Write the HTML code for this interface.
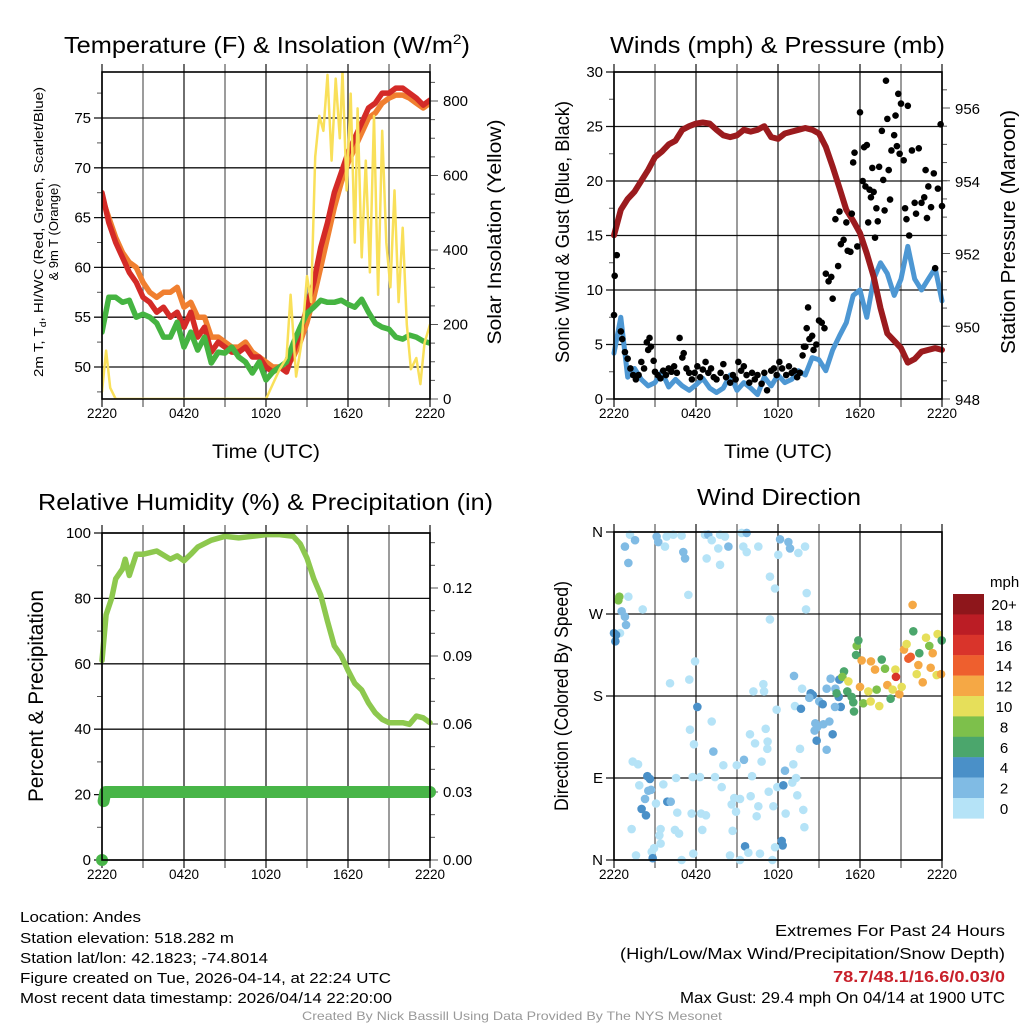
<!DOCTYPE html>
<html><head><meta charset="utf-8"><style>
html,body{margin:0;padding:0;background:#fff}
svg{display:block;font-family:"Liberation Sans",sans-serif}
</style></head><body>
<svg id="fig" width="1024" height="1024" viewBox="0 0 1024 1024">
<rect width="1024" height="1024" fill="#fff"/>
<g id="p1"></g>
<g id="p2"></g>
<g id="p3"></g>
<g id="p4"></g>
<g id="txt">
<text x="64" y="53" font-size="23" textLength="406" lengthAdjust="spacingAndGlyphs">Temperature (F) &amp; Insolation (W/m<tspan dy="-9" font-size="14">2</tspan><tspan dy="9">)</tspan></text>
<text x="610" y="53" font-size="23" textLength="335" lengthAdjust="spacingAndGlyphs">Winds (mph) &amp; Pressure (mb)</text>
<text x="38" y="510" font-size="23" textLength="455" lengthAdjust="spacingAndGlyphs">Relative Humidity (%) &amp; Precipitation (in)</text>
<text x="697" y="505" font-size="23" textLength="164" lengthAdjust="spacingAndGlyphs">Wind Direction</text>
<text x="266" y="458" font-size="19" text-anchor="middle" textLength="108" lengthAdjust="spacingAndGlyphs">Time (UTC)</text>
<text x="778" y="458" font-size="19" text-anchor="middle" textLength="108" lengthAdjust="spacingAndGlyphs">Time (UTC)</text>
<text transform="translate(43,232) rotate(-90)" font-size="13" text-anchor="middle" textLength="290" lengthAdjust="spacingAndGlyphs">2m T, T<tspan font-size="9" dy="3">d</tspan><tspan dy="-3">, HI/WC (Red, Green, Scarlet/Blue)</tspan></text>
<text transform="translate(58,232) rotate(-90)" font-size="13" text-anchor="middle">&amp; 9m T (Orange)</text>
<text transform="translate(501,232) rotate(-90)" font-size="19" text-anchor="middle" textLength="225" lengthAdjust="spacingAndGlyphs">Solar Insolation (Yellow)</text>
<text transform="translate(569,232) rotate(-90)" font-size="19" text-anchor="middle" textLength="262" lengthAdjust="spacingAndGlyphs">Sonic Wind &amp; Gust (Blue, Black)</text>
<text transform="translate(1015,232) rotate(-90)" font-size="20" text-anchor="middle" textLength="244" lengthAdjust="spacingAndGlyphs">Station Pressure (Maroon)</text>
<text transform="translate(43,696) rotate(-90)" font-size="21" text-anchor="middle" textLength="212" lengthAdjust="spacingAndGlyphs">Percent &amp; Precipitation</text>
<text transform="translate(568,696) rotate(-90)" font-size="19" text-anchor="middle" textLength="230" lengthAdjust="spacingAndGlyphs">Direction (Colored By Speed)</text>
<g font-size="15">
<text x="20" y="922" textLength="121" lengthAdjust="spacingAndGlyphs">Location: Andes</text>
<text x="20" y="943" textLength="214" lengthAdjust="spacingAndGlyphs">Station elevation: 518.282 m</text>
<text x="20" y="963" textLength="248" lengthAdjust="spacingAndGlyphs">Station lat/lon: 42.1823; -74.8014</text>
<text x="20" y="983" textLength="371" lengthAdjust="spacingAndGlyphs">Figure created on Tue, 2026-04-14, at 22:24 UTC</text>
<text x="20" y="1003" textLength="372" lengthAdjust="spacingAndGlyphs">Most recent data timestamp: 2026/04/14 22:20:00</text>
</g>
<g font-size="16" text-anchor="end">
<text x="1005" y="936" textLength="230" lengthAdjust="spacingAndGlyphs">Extremes For Past 24 Hours</text>
<text x="1005" y="959" textLength="385" lengthAdjust="spacingAndGlyphs">(High/Low/Max Wind/Precipitation/Snow Depth)</text>
<text x="1005" y="982" fill="#c8202a" font-weight="bold" textLength="172" lengthAdjust="spacingAndGlyphs">78.7/48.1/16.6/0.03/0</text>
<text x="1005" y="1003" textLength="325" lengthAdjust="spacingAndGlyphs">Max Gust: 29.4 mph On 04/14 at 1900 UTC</text>
</g>
<text x="512" y="1020" font-size="12" fill="#999" text-anchor="middle" textLength="420" lengthAdjust="spacingAndGlyphs">Created By Nick Bassill Using Data Provided By The NYS Mesonet</text>
</g>
</svg>
<script>
// ===== Data =====
const xTickLabels = ["2220","0420","1020","1620","2220"];
const temp2m = [67.5,64.5,62.5,61,59.5,58.5,57,56.5,55.5,56,55,55.5,54,55.5,53,54,51.5,52.5,52,51.5,51.5,52,51,51,50,49.5,50,49.5,51.5,53.5,56,58.5,62,64.5,67.5,69.5,71.5,73,74.5,76,76.5,77.5,77.5,78,78,77.5,77,76.3,76.8];
const temp9m = [67,65,63,61.5,60.5,60,58.5,57.5,57,57.5,57.5,58,56,56.5,55,55,53,53,52.5,52,52,52.5,51.5,51,50.5,50,50,50,51,52.5,54.5,57,60,63,66,68.5,70.5,72,73.5,75,75.5,76.5,77,77.3,77.3,77,76.5,76,76.5];
const dewpoint = [53.5,57,57,56.5,56.7,55,55.3,55,54.4,53,53,54.5,52,53.5,51.7,53,50.4,51.5,51.4,52,51,50.5,49.4,50.5,48.7,49.5,50,50.5,52.4,54,55.4,56,56.7,56.5,56.5,56.7,56.3,56,56.8,55.5,54.4,54,53.8,53,52.8,53.2,53,52.6,52.4];
const solarTimes = [0,0.3,0.6,1.0,12.0,12.5,13,13.5,13.8,14.2,14.6,15,15.3,15.6,15.9,16.2,16.5,16.8,17.1,17.4,17.6,17.9,18.2,18.5,18.7,19,19.3,19.6,19.9,20.2,20.5,20.8,21.1,21.4,21.7,22,22.3,22.6,23,23.3,23.6,24];
const solarValues = [20,130,30,0,0,40,80,110,280,60,150,330,260,650,760,720,870,640,860,700,880,560,820,420,780,380,640,340,760,280,720,420,300,560,260,460,200,80,110,40,150,200];
const pressure = [952.5,953.2,953.5,953.7,954.0,954.3,954.65,954.8,955.0,955.1,955.4,955.5,955.57,955.6,955.57,955.4,955.25,955.2,955.25,955.4,955.35,955.4,955.5,955.2,955.15,955.3,955.35,955.4,955.45,955.4,955.3,954.93,954.38,953.8,953.2,952.9,952.56,952.0,951.36,950.5,949.8,949.6,949.4,949.0,949.1,949.3,949.35,949.4,949.35];
const windSpeed = [4.2,7.5,2.0,2.8,1.8,1.2,1.5,2.5,1.1,1.8,1.2,0.8,1.3,1.9,1.0,0.6,1.0,2.2,0.8,1.5,1.0,0.4,2.0,1.2,2.2,1.5,1.8,2.6,2.2,3.8,3.6,2.6,4.5,5.8,7.0,9.5,10,7.5,11,12.5,11.5,9.5,11,14,11,10,11,12,9];
const gustTimes = [0.0,0.05,0.2,0.5,0.6,0.8,1.0,1.2,1.4,1.6,1.8,2.0,2.2,2.4,2.5,2.6,2.7,2.9,3.0,3.2,3.4,3.6,3.8,4.0,4.2,4.4,4.6,4.8,5.0,5.1,5.3,5.5,5.7,5.9,6.1,6.3,6.5,6.7,6.9,7.1,7.3,7.5,7.8,8.0,8.2,8.5,8.7,8.9,9.1,9.3,9.5,9.7,9.9,10.1,10.3,10.5,10.8,11.0,11.2,11.5,11.7,11.9,12.1,12.3,12.6,12.8,13.0,13.2,13.4,13.6,13.8,13.9,14.0,14.1,14.2,14.3,14.5,14.6,14.8,15.0,15.2,15.4,15.5,15.7,15.9,16.0,16.2,16.4,16.5,16.6,16.8,17.0,17.1,17.3,17.4,17.5,17.6,17.8,18.0,18.2,18.3,18.4,18.5,18.6,18.7,18.8,18.9,19.0,19.1,19.2,19.3,19.4,19.6,19.7,19.8,19.9,20.0,20.1,20.2,20.3,20.5,20.6,20.7,20.8,20.9,21.0,21.2,21.3,21.4,21.5,21.6,21.8,22.0,22.1,22.3,22.5,22.7,22.8,22.9,23.0,23.2,23.4,23.5,23.7,23.9,24.0];
const gustValues = [7.7,11.3,13.2,6.2,5.5,4.3,3.7,2.8,2.2,1.8,2.2,3.4,2.8,5.2,4.5,5.6,4.8,3.5,2.5,2.2,1.9,2.6,2.2,2.8,2.5,3.0,2.4,5.6,3.8,4.2,2.8,2.4,1.8,2.4,3.0,2.0,2.7,3.4,2.4,2.8,2.0,1.8,2.4,3.2,2.0,1.5,2.2,1.8,3.4,2.6,3.0,2.2,1.5,2.4,1.8,2.2,1.4,2.4,0.8,2.6,2.8,2.2,3.4,2.8,2.2,3.0,2.4,2.6,2.0,2.4,4.0,4.8,4.8,6.5,8.4,5.5,5.8,4.5,5.0,7.2,7.0,6.5,11.5,10.8,11.2,9.2,16.5,12.2,17.2,14.2,14.6,16.2,13.6,13.5,17.0,21.7,22.6,14.0,26.3,20.0,23.1,19.5,23.3,16.2,19.2,18.5,21.2,19.0,14.8,17.5,16.3,21.3,24.6,20.1,17.3,29.2,25.7,21.0,18.3,22.8,24.2,26.0,23.2,28.0,22.5,27.1,21.9,17.5,16.5,26.9,15.0,22.8,18.0,17.0,23.0,18.0,18.5,21.0,16.6,19.5,17.6,20.7,12.0,19.3,25.2,17.7];
const rhTimes = [0,0.3,0.7,1,1.5,1.7,2,2.5,3,4,5,5.5,6,6.5,7,8,9,10,11,12,13,14,14.5,15,15.5,16,16.5,17,17.5,18,18.5,19,19.5,20,20.5,21,22,22.5,23,23.5,24];
const rhValues = [61,75,80,86,89,92,87,93.5,93.5,94.5,92,93,91.5,93.5,95.7,97.8,99,98.5,99,99.5,99.5,99,96.7,92.3,86,81,73,65.5,62.5,58,54,52,48,45,43,42,42,41.5,44,43.5,42];
const precipTimes = [0,0.12,0.25,0.5,24];
const precipValues = [0,0.026,0.03,0.03,0.03];
const dirTimes = [1.17,1.54,0.8,1.05,3.12,3.24,3.73,3.85,4.34,4.95,5.07,5.2,5.44,6.66,6.9,7.15,6.78,7.76,8.12,8.37,7.63,7.76,9.34,9.71,9.46,9.71,10.56,11.41,11.78,12.15,12.02,12.76,12.88,13.49,13.98,14.1,14.05,11.41,
0.39,0.32,1.05,0.56,0.8,0.88,0.44,0,0.15,0.1,2.1,
5.93,4.1,5.51,6.1,7.15,5.56,5.85,7.27,8.0,8.98,9.51,9.95,10.32,10.8,11.1,11.24,11.22,10.93,10.2,10.98,11.9,12.51,13.12,13.32,13.61,13.24,13.68,13.17,13.76,
1.37,1.76,2.44,2.63,1.85,2.51,2.71,2.27,2.02,2.34,1.29,3.07,3.61,3.9,4.15,4.54,4.63,4.46,4.76,3.41,3.32,3.41,2.93,2.76,2.83,1.61,4.95,5.8,5.76,6.29,5.68,6.37,6.73,6.46,7.39,7.88,8.61,8.8,9.22,8.93,8.68,8.49,9.22,9.59,9.83,10.44,10.56,10.0,10.1,11.32,11.66,11.95,12.39,12.56,12.27,12.34,11.78,11.59,10.68,13.85,13.93,13.41,13.05,
14.39,14.54,14.29,15.02,15.27,15.56,15.85,16.2,16.49,16.44,16.59,16.17,15.76,15.32,14.73,14.88,14.68,16.0,14.83,15.56,
16.83,16.71,16.29,17.07,17.39,17.51,17.56,17.71,17.76,17.88,18.12,18.24,18.61,18.78,17.15,18.0,18.8,19.1,19.22,19.41,19.59,19.83,20.0,20.24,20.39,20.59,20.63,20.88,21.05,21.22,21.41,21.54,21.71,21.85,21.9,22.15,22.27,22.34,22.59,22.83,23.07,23.17,23.32,23.61,23.68,23.98,23.93];
const dirDegrees = [357,351,344,326,355,349,344,355,357,356,338,331,291,357,357,351,331,357,355,344,342,324,359,359,344,338,344,311,298,352,335,349,342,337,344,293,275,264,
289,285,289,273,267,258,249,249,247,240,275,
218,194,198,168,152,143,127,119,104,104,110,138,128,108,144,130,122,193,185,185,165,98,105,90,122,169,166,202,188,
108,105,92,89,82,76,77,67,56,49,34,62,83,64,64,90,52,33,29,34,27,18,13,9,2,5,0,7,91,91,51,51,49,33,91,80,61,68,67,53,32,5,0,15,8,48,59,70,92,75,59,80,82,51,21,16,14,0,7,55,36,71,85,
183,181,178,174,171,188,199,188,198,179,168,168,152,149,150,146,142,138,131,121,
207,201,183,185,179,173,163,225,235,241,219,172,185,174,196,190,218,209,187,169,220,210,192,177,187,209,201,182,190,231,237,221,223,280,251,204,214,227,195,244,235,211,227,203,248,241,204];
const dirSpeeds = [0.8,2.5,2.5,2.5,2.5,2.5,0.8,0.8,0.8,0.8,2.5,2.5,0.8,0.8,2.5,0.8,0.8,0.8,0.8,2.5,0.8,0.8,0.8,2.5,0.8,0.8,0.8,0.8,0.8,2.5,0.8,2.5,2.5,0.8,0.8,0.8,0.8,0.8,
8.5,8.5,0.8,2.5,2.5,2.5,0.8,4.5,4.5,4.5,0.8,
0.8,0.8,0.8,4.5,0.8,0.8,0.8,2.5,0.8,0.8,2.5,0.8,0.8,0.8,0.8,0.8,0.8,0.8,0.8,0.8,0.8,2.5,0.8,0.8,0.8,0.8,4.5,2.5,0.8,
0.8,0.8,4.5,4.5,0.8,2.5,2.5,2.5,4.5,4.5,0.8,0.8,0.8,4.5,2.5,0.8,0.8,0.8,0.8,0.8,0.8,0.8,0.8,0.8,4.5,0.8,0.8,0.8,0.8,0.8,0.8,0.8,0.8,0.8,0.8,0.8,0.8,0.8,0.8,0.8,0.8,0.8,0.8,4.5,0.8,0.8,0.8,0.8,0.8,0.8,0.8,0.8,4.5,0.8,4.5,4.5,0.8,0.8,0.8,0.8,0.8,0.8,0.8,
4.5,4.5,2.5,2.5,4.5,2.5,2.5,2.5,4.5,4.5,4.5,2.5,2.5,2.5,2.5,2.5,2.5,4.5,4.5,2.5,
6.5,8.5,6.5,6.5,6.5,6.5,6.5,6.5,8.5,6.5,12.5,8.5,10.5,10.5,10.5,12.5,12.5,12.5,8.5,10.5,6.5,8.5,12.5,6.5,10.5,10.5,16.5,12.5,10.5,12.5,10.5,14.5,14.5,12.5,6.5,10.5,12.5,6.5,12.5,10.5,8.5,12.5,12.5,10.5,10.5,6.5,12.5];
const cbarLabels = ["20+","18","16","14","12","10","8","6","4","2","0"];
const cbarColors = ["#8e161b","#bb1d25","#d9342b","#ee5f2e","#f5a845","#e6df5a","#7dc04b","#4ba66c","#4a90c8","#80bbe4","#b5e3f7"];
const halfHours = temp2m.map((_,i)=>i*0.5);

// ===== helpers =====
const NS="http://www.w3.org/2000/svg";
function mk(tag, attrs, parent){const e=document.createElementNS(NS,tag);for(const k in attrs)e.setAttribute(k,attrs[k]);parent.appendChild(e);return e;}
function lin(d0,d1,r0,r1){return v=>r0+(v-d0)*(r1-r0)/(d1-d0);}
function speedColor(s){const bins=[0,2,4,6,8,10,12,14,16,18,20];let i=0;for(let k=0;k<bins.length;k++){if(s>=bins[k])i=k;}return cbarColors[10-i];}

function frame(g,X0,X1,Y0,Y1,sx){
  for(let h=0;h<=24;h+=3){
    const x=sx(h);
    const l=mk('line',{x1:x,x2:x,y1:Y0-8,y2:Y1+8,stroke:(h%6===0)?'#222':'#666','stroke-width':1.3},g);
    
    
  }
  for(let i=0;i<xTickLabels.length;i++){
    const t=mk('text',{x:sx(i*6),y:Y1+19,'font-size':14,'text-anchor':'middle',textLength:30,lengthAdjust:'spacingAndGlyphs'},g);
    t.textContent=xTickLabels[i];
    
    
  }
}
function hgrid(g,X0,X1,y,label,side,major){
  const l=mk('line',{x1:side==='L'?X0-8:X0,x2:side==='R'?X1+8:X1,y1:y,y2:y,stroke:major?'#111':'#555','stroke-width':1.3},g);
  
  
  if(label!==null){
    const t=mk('text',{x:side==='L'?X0-11:X1+13,y:y+5,'font-size':15,'text-anchor':side==='L'?'end':'start'},g);
    t.textContent=label;
    
    
  }
}
function tick(g,x,y,dx){
  const l=mk('line',{x1:x,x2:x+dx,y1:y,y2:y,stroke:'#555','stroke-width':1},g);
  
  
}
function border(g,X0,X1,Y0,Y1){
  const r=mk('rect',{x:X0,y:Y0,width:X1-X0,height:Y1-Y0,fill:'none',stroke:'#000','stroke-width':1.6},g);
  
  
}
function line(g,xs,ys,sx,sy,color,w,name){
  const pts=xs.map((x,i)=>sx(x).toFixed(1)+','+sy(ys[i]).toFixed(1)).join(' ');
  const p=mk('polyline',{points:pts,fill:'none',stroke:color,'stroke-width':w,'stroke-linejoin':'round','stroke-linecap':'round'},g);
  
  
}
const defs=mk('defs',{},document.getElementById('fig'));
const cp=mk('clipPath',{id:'c1'},defs);
mk('rect',{x:102,y:72,width:328,height:327},cp);

// ===== Panel 1 =====
(function(){
  const g=document.getElementById('p1');
  const X0=102,X1=430,Y0=72,Y1=399;
  const sx=lin(0,24,X0,X1), sy=lin(50,75,367,118), sr=lin(0,800,399,101);
  frame(g,X0,X1,Y0,Y1,sx);
  [50,55,60,65,70,75].forEach(v=>hgrid(g,X0,X1,sy(v),String(v),'L',true));
  for(let v=47.5;v<80;v+=5)tick(g,X0,sy(v),-5);
  [0,200,400,600,800].forEach(v=>{tick(g,X1,sr(v),8);const t=mk('text',{x:X1+13,y:sr(v)+5,'font-size':15},g);t.textContent=String(v);});
  for(let v=50;v<880;v+=50)tick(g,X1,sr(v),5);
  const c=mk('g',{'clip-path':'url(#c1)'},g);
  line(c,halfHours,temp9m,sx,sy,'#f07f30',5.5,'temp-9m-line');
  line(c,halfHours,temp2m,sx,sy,'#d42a27',5.5,'temp-2m-line');
  line(c,halfHours,dewpoint,sx,sy,'#45b441',5.5,'dewpoint-line');
  line(c,solarTimes,solarValues,sx,sr,'#f9e05a',2.5,'solar-line');
  border(g,X0,X1,Y0,Y1);
})();

// ===== Panel 2 =====
(function(){
  const g=document.getElementById('p2');
  const X0=614,X1=942,Y0=72,Y1=399;
  const sx=lin(0,24,X0,X1), sy=lin(0,30,399,72), sp=lin(948,956,399,108);
  frame(g,X0,X1,Y0,Y1,sx);
  [0,5,10,15,20,25,30].forEach(v=>hgrid(g,X0,X1,sy(v),String(v),'L',true));
  for(let v=2.5;v<30;v+=5)tick(g,X0,sy(v),-5);
  [948,950,952,954,956].forEach(v=>{tick(g,X1,sp(v),8);const t=mk('text',{x:X1+13,y:sp(v)+6,'font-size':15},g);t.textContent=String(v);});
  for(let v=948.5;v<957;v+=0.5)tick(g,X1,sp(v),5);
  line(g,halfHours,windSpeed,sx,sy,'#4d97d3',5,'wind-speed-line');
  line(g,halfHours,pressure,sx,sp,'#9b1b1e',6,'pressure-line');
  for(let i=0;i<gustTimes.length;i++){
    const c=mk('circle',{cx:sx(gustTimes[i]),cy:sy(gustValues[i]),r:3.3,fill:'#000'},g);
    
    
  }
  border(g,X0,X1,Y0,Y1);
})();

// ===== Panel 3 =====
(function(){
  const g=document.getElementById('p3');
  const X0=102,X1=430,Y0=533,Y1=860;
  const sx=lin(0,24,X0,X1), sy=lin(0,100,860,533), sr=lin(0,0.03,860,792);
  frame(g,X0,X1,Y0,Y1,sx);
  [0,20,40,60,80,100].forEach(v=>hgrid(g,X0,X1,sy(v),String(v),'L',true));
  for(let v=10;v<100;v+=20)tick(g,X0,sy(v),-5);
  [0,0.03,0.06,0.09,0.12].forEach(v=>{tick(g,X1,sr(v),8);const t=mk('text',{x:X1+13,y:sr(v)+5,'font-size':15},g);t.textContent=v.toFixed(2);});
  for(let v=0.01;v<0.145;v+=0.01)tick(g,X1,sr(v),5);
  const d0=mk('circle',{cx:sx(precipTimes[0]),cy:sr(precipValues[0]),r:6,fill:'#48b548'},g);
  
  
  line(g,precipTimes.slice(1),precipValues.slice(1),sx,sr,'#48b548',12,'precipitation-line');
  line(g,rhTimes,rhValues,sx,sy,'#8dc84e',5.5,'humidity-line');
  border(g,X0,X1,Y0,Y1);
})();

// ===== Panel 4 =====
(function(){
  const g=document.getElementById('p4');
  const X0=614,X1=942,Y0=532,Y1=860;
  const sx=lin(0,24,X0,X1), sy=lin(0,360,860,532);
  frame(g,X0,X1,Y0,Y1,sx);
  const dl=["N","E","S","W","N"];
  [0,90,180,270,360].forEach((v,i)=>hgrid(g,X0,X1,sy(v),dl[i],'L',true));
  for(let i=0;i<dirTimes.length;i++){
    const c=mk('circle',{cx:sx(dirTimes[i]),cy:sy(dirDegrees[i]),r:4.3,fill:speedColor(dirSpeeds[i])},g);
    
    
  }
  border(g,X0,X1,Y0,Y1);
  const cb=mk('g',{},g);
  
  
  const t0=mk('text',{x:990,y:587,'font-size':15},cb);
  t0.textContent='mph';
  
  
  for(let i=0;i<cbarColors.length;i++){
    const r=mk('rect',{x:953,y:594+i*20.4,width:31,height:20.6,fill:cbarColors[i]},cb);
    
    
    const t=mk('text',{x:1004,y:594+i*20.4+16,'font-size':15,'text-anchor':'middle'},cb);
    t.textContent=cbarLabels[i];
    
    
  }
})();
</script>
</body></html>
